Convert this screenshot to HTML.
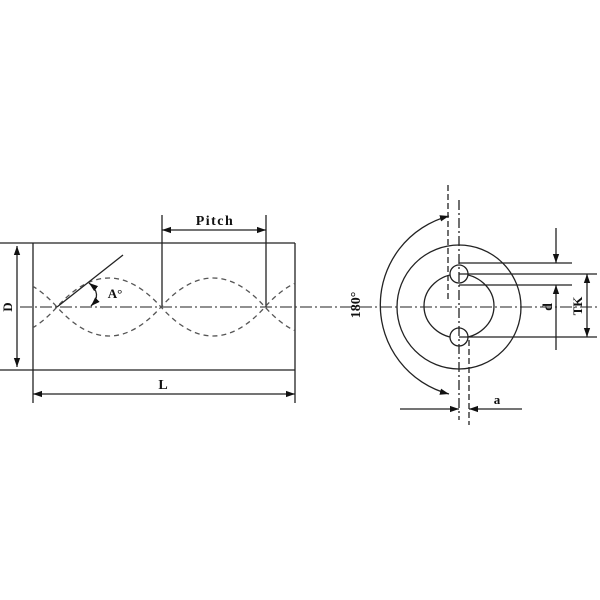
<!DOCTYPE html>
<html><head><meta charset="utf-8"><style>html,body{margin:0;padding:0;background:#fff}svg{display:block}</style></head>
<body>
<svg width="600" height="600" viewBox="0 0 600 600" xmlns="http://www.w3.org/2000/svg">
<defs>
<marker id="ar" viewBox="0 0 10 10" refX="10" refY="5" markerWidth="7" markerHeight="7" orient="auto-start-reverse"><path d="M0,1.5 L10,5 L0,8.5 Z" fill="#111"/></marker>
<clipPath id="cp"><rect x="33" y="240" width="262" height="130"/></clipPath>
</defs>
<g stroke="#222" stroke-width="1.3" fill="none">
<!-- left drawing -->
<line x1="0" y1="243" x2="295" y2="243"/>
<line x1="0" y1="370" x2="295" y2="370"/>
<line x1="33" y1="243" x2="33" y2="403"/>
<line x1="295" y1="243" x2="295" y2="403"/>
<line x1="17" y1="246" x2="17" y2="367" marker-start="url(#ar)" marker-end="url(#ar)"/>
<line x1="33" y1="394" x2="295" y2="394" marker-start="url(#ar)" marker-end="url(#ar)"/>
<line x1="162" y1="215" x2="162" y2="307"/>
<line x1="266" y1="215" x2="266" y2="307"/>
<line x1="162" y1="230" x2="266" y2="230" marker-start="url(#ar)" marker-end="url(#ar)"/>
<line x1="20" y1="307" x2="600" y2="307" stroke-dasharray="12,3,2,3" stroke-width="1.1"/>
<g clip-path="url(#cp)" stroke-dasharray="5,4" stroke="#555">
<path d="M-47,307 Q5,365 57,307 Q109,249 161,307 Q213,365 265,307 Q317,249 369,307"/>
<path d="M-47,307 Q5,249 57,307 Q109,365 161,307 Q213,249 265,307 Q317,365 369,307"/>
</g>
<line x1="57" y1="307" x2="123" y2="255"/>
<path d="M89,283 Q103,294 91,306" marker-start="url(#ar)" marker-end="url(#ar)"/>
<!-- right drawing -->
<circle cx="459" cy="307" r="62"/>
<ellipse cx="459" cy="306" rx="35" ry="32"/>
<circle cx="459" cy="274" r="9" fill="#fff"/>
<circle cx="459" cy="337" r="9" fill="#fff"/>
<path d="M449,216 A92,92 0 0 0 449,394" marker-start="url(#ar)" marker-end="url(#ar)"/>
<line x1="448" y1="185" x2="448" y2="300" stroke-dasharray="6,3"/>
<line x1="459" y1="200" x2="459" y2="420" stroke-dasharray="10,3,2,3"/>
<line x1="469" y1="340" x2="469" y2="425" stroke-dasharray="6,3"/>
<line x1="459" y1="263" x2="572" y2="263"/>
<line x1="459" y1="274" x2="597" y2="274"/>
<line x1="459" y1="285" x2="572" y2="285"/>
<line x1="459" y1="337" x2="597" y2="337"/>
<line x1="556" y1="228" x2="556" y2="263" marker-end="url(#ar)"/>
<line x1="556" y1="350" x2="556" y2="285" marker-end="url(#ar)"/>
<line x1="587" y1="274" x2="587" y2="337" marker-start="url(#ar)" marker-end="url(#ar)"/>
<line x1="400" y1="409" x2="459" y2="409" marker-end="url(#ar)"/>
<line x1="522" y1="409" x2="469" y2="409" marker-end="url(#ar)"/>
</g>
<g font-family="Liberation Serif, serif" font-weight="bold" fill="#111">
<text x="215" y="225" font-size="14" text-anchor="middle" letter-spacing="1.5">Pitch</text>
<text x="163" y="389" font-size="14" text-anchor="middle">L</text>
<text x="115" y="298" font-size="13" text-anchor="middle">A°</text>
<text transform="translate(12,307) rotate(-90)" font-size="13" text-anchor="middle">D</text>
<text transform="translate(360,305) rotate(-90)" font-size="14" text-anchor="middle">180°</text>
<text transform="translate(552,307) rotate(-90)" font-size="14" text-anchor="middle">d</text>
<text transform="translate(582,306) rotate(-90)" font-size="13" text-anchor="middle">TK</text>
<text x="497" y="404" font-size="13" text-anchor="middle">a</text>
</g>
</svg>
</body></html>
